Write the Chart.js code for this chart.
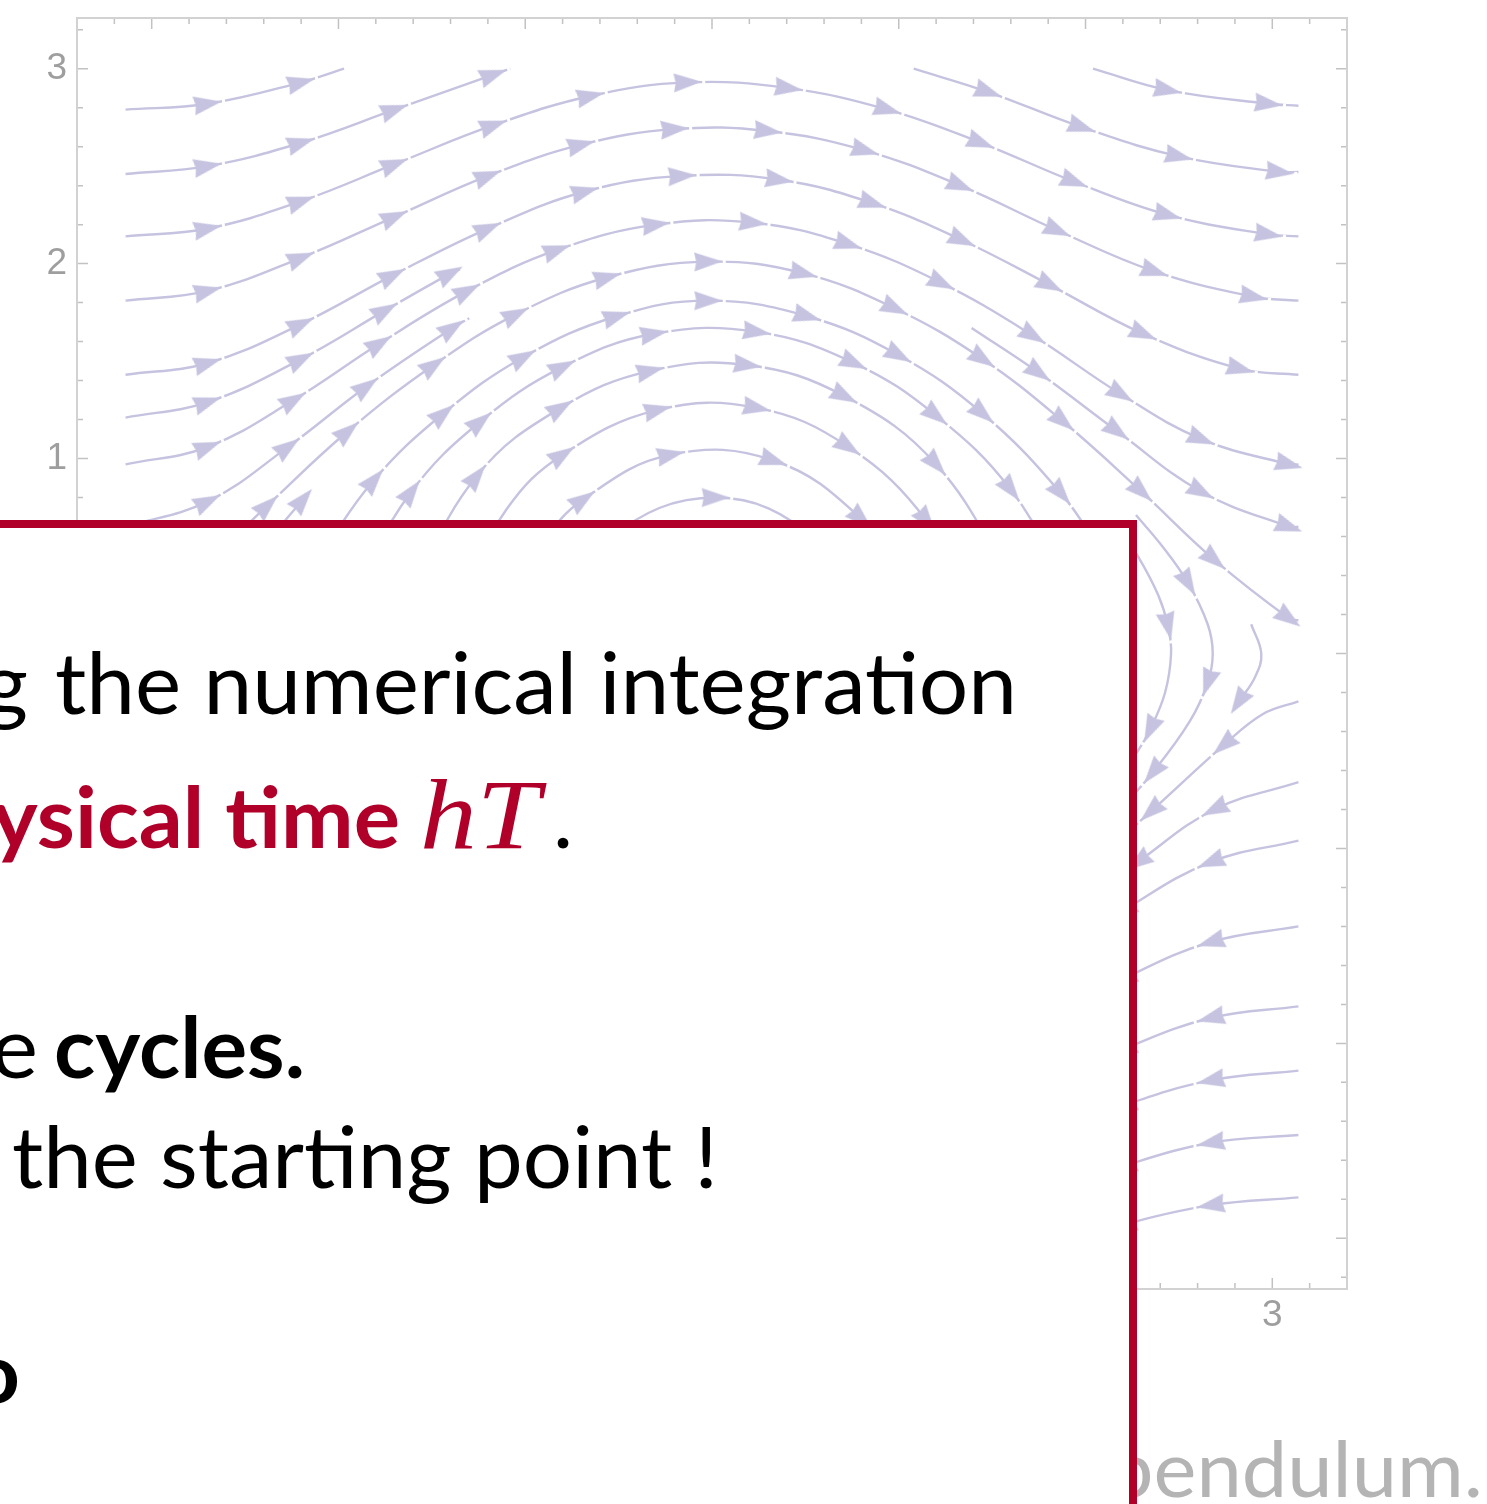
<!DOCTYPE html>
<html>
<head>
<meta charset="utf-8">
<script src="https://cdn.jsdelivr.net/npm/chart.js"></script>
<style>
  html, body { margin: 0; padding: 0; background: #ffffff; overflow: hidden; width: 1487px; height: 1504px; }
  #wrap { position: relative; width: 1487px; height: 1504px; }
  #phase { position: absolute; left: 0; top: 0; }
  #slide { position: absolute; left: 0; top: 0; pointer-events: none; }
</style>
</head>
<body>
<div id="wrap">
  <canvas id="phase" width="1487" height="1504"></canvas>
  <svg id="slide" width="1487" height="1504" viewBox="0 0 1487 1504" xmlns="http://www.w3.org/2000/svg">
    <text x="1108" y="1497" font-family="Lato" font-size="77" fill="#b4b4b4" textLength="375" lengthAdjust="spacingAndGlyphs">pendulum.</text>
    <rect x="-20" y="520" width="1157" height="1010" fill="#ffffff"/>
    <rect x="-20" y="520" width="1157" height="8" fill="#b0002a"/>
    <rect x="1129" y="520" width="8" height="1010" fill="#b0002a"/>
    <g font-family="Lato" font-size="85" fill="#000000">
      <text x="-17" y="714" textLength="45" lengthAdjust="spacingAndGlyphs">g</text>
      <text x="55" y="714" textLength="962" lengthAdjust="spacingAndGlyphs">the numerical integration</text>
      <text x="-8" y="848" font-weight="bold" fill="#b0002a" textLength="408" lengthAdjust="spacingAndGlyphs">ysical time</text>
      <text x="420" y="848" font-family="Liberation Serif" font-style="italic" font-size="100" fill="#b0002a" textLength="120" lengthAdjust="spacingAndGlyphs">hT</text>
      <text x="553" y="848">.</text>
      <text x="-9" y="1078" textLength="47" lengthAdjust="spacingAndGlyphs">e</text>
      <text x="54" y="1078" font-weight="bold" textLength="251" lengthAdjust="spacingAndGlyphs">cycles.</text>
      <text x="12" y="1188" textLength="706" lengthAdjust="spacingAndGlyphs">the starting point !</text>
      <text x="-30" y="1403" font-weight="bold" textLength="50" lengthAdjust="spacingAndGlyphs">o</text>
    </g>
  </svg>
</div>
<script>
// Phase portrait of the simple pendulum: angle θ (x) against angular velocity ω (y).
// Each streamline is a list of [θ, ω] vertices; a third entry of 1 marks an arrowhead.

// rotating motion, ω > 0 (flow to the right)
const rotUpper1  = [[-3.14,2.79],[-2.7,2.82,1],[-2.2,2.93,1],[-1.97,3.0]];
const rotUpper2  = [[-3.14,2.46],[-2.7,2.50,1],[-2.2,2.62,1],[-1.7,2.79,1],[-1.17,2.97,1],[-1.08,3.0]];
const rotUpper1r = [[2.04,3.0],[2.44,2.89,1],[2.98,2.82,1],[3.14,2.81]];
const rotUpper2r = [[1.08,3.0],[1.48,2.88,1],[1.98,2.70,1],[2.50,2.55,1],[3.04,2.47,1],[3.14,2.47]];
const rotUpper3  = [[-3.14,2.14],[-2.7,2.18,1],[-2.2,2.32,1],[-1.7,2.51,1],[-1.17,2.71,1],[-0.65,2.86,1],[-0.13,2.93,1],[0.41,2.90,1],[0.94,2.79,1],[1.44,2.62,1],[1.94,2.42,1],[2.44,2.25,1],[2.98,2.15,1],[3.14,2.14]];
const rotUpper4  = [[-3.14,1.81],[-2.7,1.86,1],[-2.2,2.03,1],[-1.7,2.24,1],[-1.2,2.45,1],[-0.7,2.61,1],[-0.2,2.69,1],[0.3,2.68,1],[0.82,2.58,1],[1.33,2.40,1],[1.85,2.17,1],[2.37,1.96,1],[2.90,1.83,1],[3.14,1.81]];
const rotUpper5  = [[-3.14,1.43],[-2.7,1.49,1],[-2.2,1.69,1],[-1.71,1.94,1],[-1.2,2.18,1],[-0.68,2.37,1],[-0.16,2.45,1],[0.36,2.43,1],[0.86,2.31,1],[1.34,2.12,1],[1.81,1.89,1],[2.31,1.64,1],[2.83,1.46,1],[3.14,1.43]];
const rotUpper6  = [[-3.14,1.21],[-2.7,1.29,1],[-2.2,1.51,1],[-1.75,1.76,1],[-1.4,1.95,1],[-1.35,1.97]];
const rotUpper7  = [[-3.14,0.97],[-2.7,1.06,1],[-2.24,1.30,1],[-1.78,1.59,1],[-1.31,1.86,1],[-0.83,2.07,1],[-0.3,2.20,1],[0.22,2.21,1],[0.73,2.10,1],[1.23,1.90,1],[1.72,1.63,1],[2.19,1.33,1],[2.62,1.10,1],[3.09,0.97,1],[3.14,0.97]];
const rotUpper8  = [[-3.14,0.65],[-2.7,0.78,1],[-2.27,1.06,1],[-1.85,1.37,1],[-1.39,1.67,1],[-1.30,1.72]];
const rotUpper8r = [[1.39,1.67],[1.75,1.44,1],[2.17,1.14,1],[2.62,0.83,1],[3.09,0.65,1],[3.14,0.65]];
const nearSeparatrix = [[-3.14,0.17],[-2.8,0.38],[-2.38,0.76,1],[-1.95,1.14,1],[-1.49,1.48,1],[-1.05,1.74,1],[-0.56,1.93,1],[-0.02,2.01,1],[0.49,1.95,1],[0.98,1.77,1],[1.45,1.51,1],[1.88,1.19,1],[2.30,0.83,1],[2.69,0.48,1],[3.09,0.18,1],[3.14,0.17]];

// oscillating motion (closed orbits around θ = 0, clockwise)
const oscStubLeft = [[-2.4,0.55],[-2.27,0.70],[-2.19,0.79,1]];
const oscOuterRight = [[2.27,0.71],[2.411,0.55],[2.55,0.36,1],[2.654,0.15],[2.681,0],[2.654,-0.15,1],[2.557,-0.35],[2.36,-0.61,1],[2.183,-0.8],[2.0,-0.98]];
const oscRight2 = [[2.19,0.62],[2.28,0.5],[2.389,0.3],[2.442,0.14,1],[2.458,0],[2.426,-0.2],[2.346,-0.39,1],[2.28,-0.5],[2.19,-0.62]];
const oscSaddle = [[2.887,0.15],[2.941,0.0],[2.908,-0.12],[2.819,-0.25,1]];
const osc1 = [[-2.1,0.5],[-1.81,0.89,1],[-1.44,1.23,1],[-1.01,1.52,1],[-0.51,1.73,1],[-0.02,1.81,1],[0.51,1.73,1],[1.0,1.53,1],[1.45,1.23,1],[1.87,0.82,1],[2.1,0.5]];
const osc2 = [[-1.9,0.35],[-1.61,0.83,1],[-1.24,1.19,1],[-0.8,1.47,1],[-0.31,1.64,1],[0.24,1.65,1],[0.76,1.49,1],[1.2,1.22,1],[1.6,0.84,1],[1.9,0.35]];
const osc3 = [[-1.65,0.25],[-1.26,0.91,1],[-0.81,1.26,1],[-0.33,1.45,1],[0.19,1.48,1],[0.71,1.32,1],[1.2,0.97,1],[1.62,0.35]];
const osc4 = [[-1.35,0.28],[-1.1,0.74],[-0.8,1.02,1],[-0.29,1.25,1],[0.24,1.26,1],[0.73,1.06,1],[1.15,0.68,1],[1.35,0.28]];
const osc5 = [[-1.05,0.27],[-0.9,0.57],[-0.69,0.79,1],[-0.22,1.02,1],[0.33,0.99,1],[0.8,0.69,1],[1.0,0.40],[1.05,0.27]];
const osc6 = [[-0.8,0.18],[-0.55,0.59],[0.02,0.80,1],[0.55,0.59],[0.8,0.18]];

// rotating motion, ω < 0 (flow to the left)
const rotLower0 = [[3.14,-0.245],[2.95,-0.31],[2.74,-0.47,1],[2.35,-0.81,1],[1.95,-1.15,1],[1.5,-1.48]];
const rotLower1 = [[3.14,-0.66],[2.69,-0.80,1],[2.28,-1.07,1],[1.85,-1.37,1],[1.4,-1.67]];
const rotLower2 = [[3.14,-0.96],[2.67,-1.07,1],[2.2,-1.32,1],[1.75,-1.60]];
const rotLower3 = [[3.14,-1.40],[2.67,-1.48,1],[2.2,-1.67,1],[1.75,-1.90]];
const rotLower4 = [[3.14,-1.81],[2.67,-1.87,1],[2.2,-2.03,1],[1.75,-2.22]];
const rotLower5 = [[3.14,-2.14],[2.67,-2.19,1],[2.2,-2.32,1],[1.75,-2.49]];
const rotLower6 = [[3.14,-2.47],[2.67,-2.51,1],[2.2,-2.63,1],[1.75,-2.78]];
const rotLower7 = [[3.14,-2.79],[2.67,-2.83,1],[2.2,-2.93,1],[1.97,-3.0]];

// frame tick labels
const xTickValues = [-3, -2, -1, 0, 1, 2, 3];
const xTickLabels = ['-3', '-2', '-1', '0', '1', '2', '3'];
const yTickValues = [-3, -2, -1, 0, 1, 2, 3];
const yTickLabels = ['-3', '-2', '-1', '0', '1', '2', '3'];

const streamlines = [
  rotUpper1, rotUpper2, rotUpper1r, rotUpper2r, rotUpper3, rotUpper4, rotUpper5, rotUpper6,
  rotUpper7, rotUpper8, rotUpper8r, nearSeparatrix,
  oscStubLeft, oscOuterRight, oscRight2, oscSaddle, osc1, osc2, osc3, osc4, osc5, osc6,
  rotLower0, rotLower1, rotLower2, rotLower3, rotLower4, rotLower5, rotLower6, rotLower7
];

const STREAM_COLOR = '#c5c3e0';
const FRAME_COLOR = '#d2d2d2';
const TICK_COLOR = '#c2c2c2';
const LABEL_COLOR = '#9e9e9e';
const ARROW_TIP = 14;

// arrowhead sprite, pointing along +x, centred on the vertex
const arrowHead = document.createElement('canvas');
arrowHead.width = 34;
arrowHead.height = 24;
(function () {
  const g = arrowHead.getContext('2d');
  g.fillStyle = STREAM_COLOR;
  g.beginPath();
  g.moveTo(17 + ARROW_TIP, 12);
  g.lineTo(3, 2.5);
  g.lineTo(5, 12);
  g.lineTo(3, 21.5);
  g.closePath();
  g.fill();
})();

function arrowAngle(ctx) {
  if (ctx.type !== 'data') return 0;
  const pts = ctx.dataset.data, i = ctx.dataIndex;
  const a = pts[Math.max(0, i - 1)], b = pts[Math.min(pts.length - 1, i + 1)];
  const sx = ctx.chart.scales.x, sy = ctx.chart.scales.y;
  const dx = sx.getPixelForValue(b.x) - sx.getPixelForValue(a.x);
  const dy = sy.getPixelForValue(b.y) - sy.getPixelForValue(a.y);
  return Math.atan2(dy, dx) * 180 / Math.PI;
}

// Mathematica-style frame: ticks on all four sides, labels left and bottom
const frameTicks = {
  id: 'frameTicks',
  beforeDatasetsDraw(chart) {
    const { ctx, chartArea: a, scales: { x, y } } = chart;
    ctx.save();
    ctx.strokeStyle = TICK_COLOR;
    ctx.lineWidth = 1.5;
    ctx.beginPath();
    for (let k = Math.ceil(x.min / 0.2 - 1e-6); k <= Math.floor(x.max / 0.2 + 1e-6); k++) {
      const len = k % 5 === 0 ? 11 : 6;
      const px = x.getPixelForValue(k * 0.2);
      ctx.moveTo(px, a.bottom); ctx.lineTo(px, a.bottom - len);
      ctx.moveTo(px, a.top); ctx.lineTo(px, a.top + len);
    }
    for (let k = Math.ceil(y.min / 0.2 - 1e-6); k <= Math.floor(y.max / 0.2 + 1e-6); k++) {
      const len = k % 5 === 0 ? 11 : 6;
      const py = y.getPixelForValue(k * 0.2);
      ctx.moveTo(a.left, py); ctx.lineTo(a.left + len, py);
      ctx.moveTo(a.right, py); ctx.lineTo(a.right - len, py);
    }
    ctx.stroke();
    ctx.strokeStyle = FRAME_COLOR;
    ctx.lineWidth = 2;
    ctx.strokeRect(a.left, a.top, a.right - a.left, a.bottom - a.top);

    ctx.fillStyle = LABEL_COLOR;
    ctx.font = '37px "Liberation Sans", Arial, sans-serif';
    ctx.textAlign = 'right';
    ctx.textBaseline = 'middle';
    yTickValues.forEach((v, i) => ctx.fillText(yTickLabels[i], a.left - 10, y.getPixelForValue(v)));
    ctx.textAlign = 'center';
    xTickValues.forEach((v, i) => ctx.fillText(xTickLabels[i], x.getPixelForValue(v), a.bottom + 27));
    ctx.restore();
  },
  // small break in the stroke just past every arrow tip
  afterDatasetsDraw(chart) {
    const ctx = chart.ctx;
    ctx.save();
    ctx.strokeStyle = '#ffffff';
    ctx.lineWidth = 4.5;
    chart.data.datasets.forEach((ds, i) => {
      const meta = chart.getDatasetMeta(i);
      meta.data.forEach((pt, j) => {
        if (!ds.data[j].arrow || j === ds.data.length - 1) return;
        const r = (pt.options.rotation || 0) * Math.PI / 180;
        const c = Math.cos(r), s = Math.sin(r);
        ctx.beginPath();
        ctx.moveTo(pt.x + c * (ARROW_TIP + 0.5), pt.y + s * (ARROW_TIP + 0.5));
        ctx.lineTo(pt.x + c * (ARROW_TIP + 3.5), pt.y + s * (ARROW_TIP + 3.5));
        ctx.stroke();
      });
    });
    ctx.restore();
  }
};

new Chart(document.getElementById('phase'), {
  type: 'scatter',
  data: {
    datasets: streamlines.map(s => ({
      data: s.map(p => ({ x: p[0], y: p[1], arrow: p[2] === 1 })),
      showLine: true,
      fill: false,
      borderColor: STREAM_COLOR,
      borderWidth: 2.4,
      tension: 0.4,
      pointStyle: arrowHead,
      pointRadius: ctx => (ctx.raw && ctx.raw.arrow ? 8 : 0),
      pointHoverRadius: 0,
      pointHitRadius: 0,
      pointRotation: arrowAngle
    }))
  },
  options: {
    responsive: false,
    animation: false,
    devicePixelRatio: 1,
    events: [],
    layout: { padding: { left: 77, top: 18, right: 140, bottom: 215 } },
    plugins: { legend: { display: false }, tooltip: { enabled: false } },
    scales: {
      x: { type: 'linear', min: -3.4, max: 3.4, display: false },
      y: { type: 'linear', min: -3.26, max: 3.26, display: false }
    }
  },
  plugins: [frameTicks]
});
</script>
</body>
</html>
